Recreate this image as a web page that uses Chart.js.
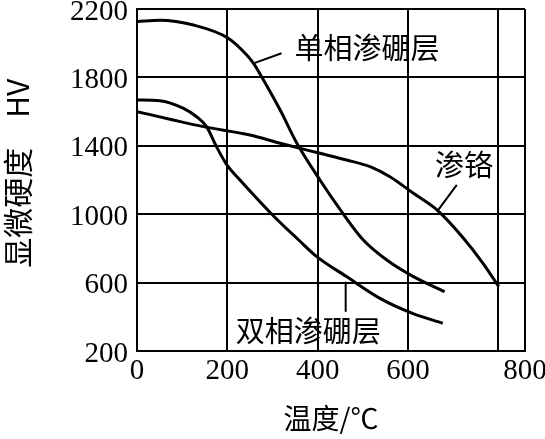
<!DOCTYPE html>
<html>
<head>
  <meta charset="UTF-8">
  <title>温度与显微硬度</title>
  <script src="https://cdn.jsdelivr.net/npm/chart.js"></script>
  <style>
    body { margin: 0; background: #fff; }
    canvas { display: block; }
  </style>
</head>
<body>
  <canvas id="chart" width="545" height="439"></canvas>
  <script>
    // 温度 (°C) 和 显微硬度 (HV)
    const singleX = [0, 51, 125, 202, 243, 258, 280, 317, 354, 405, 453, 501, 553, 612, 681];
    const singleY = [2126, 2134, 2106, 2029, 1931, 1882, 1785, 1609, 1415, 1200, 1015, 849, 732, 635, 547];

    const doubleX = [0, 50, 103, 132, 154, 176, 199, 228, 304, 358, 398, 464, 538, 610, 677];
    const doubleY = [1668, 1664, 1619, 1570, 1512, 1395, 1288, 1200, 985, 849, 752, 635, 508, 420, 362];

    const chromX = [0, 80, 147, 250, 317, 405, 464, 516, 560, 612, 664, 720, 766, 801];
    const chromY = [1600, 1551, 1512, 1463, 1415, 1356, 1317, 1278, 1219, 1122, 1025, 868, 713, 576];

    // 坐标轴
    const xTicks = [0, 200, 400, 600, 800, 859];
    const xTickLabels = ["0", "200", "400", "600", "", "800"];
    const yMin = 200, yMax = 2200, yStep = 400;

    // 曲线标注 (文字和引线)
    const labelNames = ["单相渗硼层", "渗铬", "双相渗硼层"];
    const labelX = [509, 724, 379];
    const labelY = [1970, 1288, 317];
    const leaderX = [[258, 320], [667, 708], [462, 462]];
    const leaderY = [[1882, 1941], [1025, 1171], [605, 430]];

    const toPoints = (xs, ys) => xs.map((x, i) => ({ x: x, y: ys[i] }));

    const curve = (label, xs, ys) => ({
      label: label,
      data: toPoints(xs, ys),
      borderColor: "#000",
      borderWidth: 3,
      pointRadius: 0,
      cubicInterpolationMode: "monotone",
      fill: false
    });

    const datasets = [
      curve("单相渗硼层", singleX, singleY),
      curve("双相渗硼层", doubleX, doubleY),
      curve("渗铬", chromX, chromY)
    ];
    leaderX.forEach((xs, i) => {
      datasets.push({
        label: "leader" + i,
        data: toPoints(xs, leaderY[i]),
        borderColor: "#000",
        borderWidth: 2,
        pointRadius: 0,
        tension: 0
      });
    });

    // 在数据坐标处写标注文字
    const curveLabels = {
      id: "curveLabels",
      afterDatasetsDraw(chart) {
        const ctx = chart.ctx;
        const xs = chart.scales.x, ys = chart.scales.y;
        ctx.save();
        ctx.fillStyle = "#000";
        ctx.font = "29px 'Noto Sans CJK SC'";
        ctx.textAlign = "center";
        ctx.textBaseline = "middle";
        labelNames.forEach((name, i) => {
          ctx.fillText(name, xs.getPixelForValue(labelX[i]), ys.getPixelForValue(labelY[i]));
        });
        ctx.restore();
      }
    };

    new Chart(document.getElementById("chart"), {
      type: "line",
      data: { datasets: datasets },
      plugins: [curveLabels],
      options: {
        responsive: false,
        animation: false,
        layout: { padding: { left: 0, right: 20, top: 9, bottom: 0 } },
        plugins: { legend: { display: false }, tooltip: { enabled: false } },
        scales: {
          x: {
            type: "linear",
            min: 0,
            max: 859,
            afterBuildTicks(axis) {
              axis.ticks = xTicks.map(v => ({ value: v }));
            },
            afterFit(axis) {
              axis.height = 88;
              axis.paddingLeft = 0;
              axis.paddingRight = 0;
            },
            grid: { color: "#000", lineWidth: 2, drawTicks: false },
            border: { color: "#000", width: 2 },
            ticks: {
              color: "#000",
              padding: 3,
              maxRotation: 0,
              autoSkip: false,
              font: { family: "'Liberation Serif'", size: 29 },
              callback: (v, i) => xTickLabels[i]
            },
            title: {
              display: true,
              text: "温度/℃",
              color: "#000",
              padding: { top: 22 },
              font: { family: "'Noto Sans CJK SC'", size: 28 }
            }
          },
          y: {
            min: yMin,
            max: yMax,
            afterFit(axis) {
              axis.width = 137;
              axis.paddingTop = 0;
              axis.paddingBottom = 0;
            },
            grid: { color: "#000", lineWidth: 2, drawTicks: false },
            border: { color: "#000", width: 2 },
            ticks: {
              stepSize: yStep,
              color: "#000",
              padding: 9,
              labelOffset: 3,
              font: { family: "'Liberation Serif'", size: 29 },
              callback: v => String(v)
            },
            title: {
              display: true,
              text: "  显微硬度　HV",
              color: "#000",
              padding: 0,
              font: { family: "'Noto Sans CJK SC'", size: 30 }
            }
          }
        }
      }
    });
  </script>
</body>
</html>
